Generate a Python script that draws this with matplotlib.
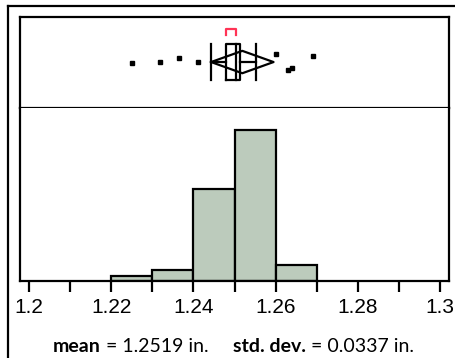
import numpy as np
import matplotlib
matplotlib.use('Agg')
import matplotlib.pyplot as plt
from matplotlib.lines import Line2D

plt.rcParams['font.family'] = ['Liberation Sans', 'DejaVu Sans']
plt.rcParams['xtick.labelsize'] = 15

# du lieu histogram (bin trai, so dem)
bin_left = [1.22, 1.23, 1.24, 1.25, 1.26]
bin_count = [1, 2, 17, 28, 3]
bin_width = 0.01

# outlier box plot va do lech doc (jitter)
outlier_x = [1.2251, 1.2319, 1.2364, 1.2412, 1.2600, 1.2629, 1.2639, 1.2692]
outlier_jit = [0.50, 0.51, 0.55, 0.51, 0.59, 0.42, 0.44, 0.57]

# thong so box plot
whisker_lo, q1, median, q3, whisker_hi = 1.2442, 1.2479, 1.2503, 1.2513, 1.2552
mean_val = 1.2519
diamond_half = 0.0076
shortest_half = (1.2479, 1.2503)

xticks_major = [1.2, 1.22, 1.24, 1.26, 1.28, 1.3]
xticks_minor = [1.21, 1.23, 1.25, 1.27, 1.29]
xlim = (1.1978, 1.3022)

W, H = 456, 358
fig = plt.figure(figsize=(W / 100, H / 100), dpi=100)

# khung ngoai
fig.add_artist(Line2D([8 / W, 8 / W], [0, 1 - 6 / H], color='black', lw=1.6, transform=fig.transFigure))
fig.add_artist(Line2D([8 / W, 1], [1 - 6 / H, 1 - 6 / H], color='black', lw=1.6, transform=fig.transFigure))

axb = fig.add_axes([20 / W, (H - 108) / H, 429 / W, 91 / H])
axh = fig.add_axes([20 / W, (H - 281) / H, 429 / W, 173 / H])

for ax in (axb, axh):
    ax.set_xlim(*xlim)
    for s in ax.spines.values():
        s.set_linewidth(1.6)
axh.spines['top'].set_visible(False)

# box plot
axb.set_ylim(0, 1)
axb.set_xticks([])
axb.set_yticks([])
yc = 0.505
bh = 0.196
lw = 1.6
axb.plot([whisker_lo, q1], [yc, yc], color='black', lw=lw)
axb.plot([q3, whisker_hi], [yc, yc], color='black', lw=lw)
axb.plot([whisker_lo, whisker_lo], [yc - bh, yc + bh], color='black', lw=lw)
axb.plot([whisker_hi, whisker_hi], [yc - bh, yc + bh], color='black', lw=lw)
axb.plot([q1, q3, q3, q1, q1], [yc - bh, yc - bh, yc + bh, yc + bh, yc - bh], color='black', lw=lw)
axb.plot([median, median], [yc - bh, yc + bh], color='black', lw=lw)
dh = 0.123
axb.plot([mean_val - diamond_half, mean_val, mean_val + diamond_half, mean_val, mean_val - diamond_half],
         [yc, yc + dh, yc, yc - dh, yc], color='black', lw=lw)
axb.plot([shortest_half[0], shortest_half[0], shortest_half[1], shortest_half[1]],
         [0.805, 0.868, 0.868, 0.805], color='#ff3355', lw=1.6)
axb.plot(outlier_x, outlier_jit, 's', color='black', ms=2.4, mec='black')

# histogram
axh.bar(bin_left, bin_count, width=bin_width, align='edge', color='#bccbbc', edgecolor='black', lw=1.6, zorder=2)
axh.set_ylim(0, 32)
axh.set_yticks([])
axh.set_xticks(xticks_major, labels=[f'{v:g}' for v in xticks_major])
axh.set_xticks(xticks_minor, minor=True)
axh.tick_params(axis='x', which='both', direction='out', length=8, width=1.6, pad=4)

# dong chu duoi
fy = (H - 347) / H
fs = 14
t1 = fig.text(53 / W, fy, 'mean', fontsize=fs, fontweight='bold', family='Lato', va='center')
fig.add_artist(matplotlib.text.Annotation(' = 1.2519 in.', xy=(1, 0.5), xycoords=t1, va='center',
                                          ha='left', fontsize=fs, family='Lato'))
t3 = fig.text(233 / W, fy, 'std. dev.', fontsize=fs, fontweight='bold', family='Lato', va='center')
fig.add_artist(matplotlib.text.Annotation(' = 0.0337 in.', xy=(1, 0.5), xycoords=t3, va='center',
                                          ha='left', fontsize=fs, family='Lato'))

fig.savefig('out.png', dpi=100)
